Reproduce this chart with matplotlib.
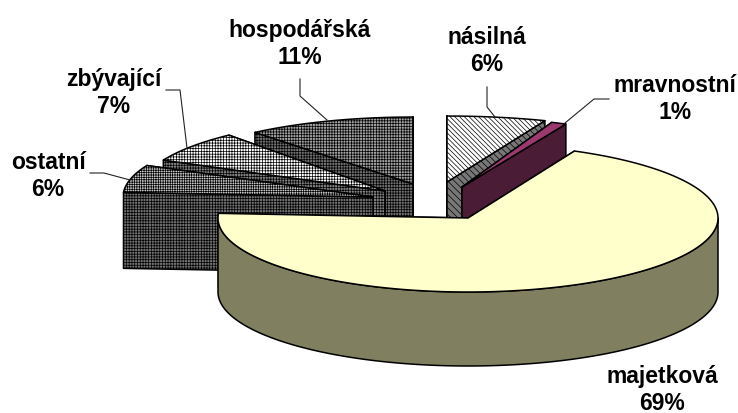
import numpy as np
import matplotlib
matplotlib.use('Agg')
import matplotlib.pyplot as plt
from matplotlib.patches import Polygon

plt.rcParams['font.family'] = ['Liberation Sans', 'DejaVu Sans']
plt.rcParams['hatch.linewidth'] = 0.5

# data, clockwise from 12 o'clock
names = ['násilná', 'mravnostní', 'majetková', 'ostatní', 'zbývající', 'hospodářská']
values = [6, 1, 69, 6, 7, 11]

# where each exploded slice sits (pixels)
apex_x = [447, 462, 468, 373, 385, 413]
apex_y = [183, 188, 219, 198, 192, 185]
radius = [266, 244, 250, 250, 245, 248]
tilt = [0.248, 0.285, 0.296, 0.296, 0.296, 0.27]
depth = [75, 75, 74, 76, 75, 75]
top_color = ['white', '#9c3a70', '#ffffcc', '#c8c8c8', 'white', '#a0a0a0']
top_hatch = ['\\' * 7, None, None, '+' * 7, '+' * 6, '+' * 6]
side_color = ['#777777', '#4a1c35', '#808060', '#707070', '#808080', '#707070']
side_hatch = ['\\' * 5, None, None, '+' * 6, '+' * 6, '+' * 6]
draw_order = [5, 4, 3, 0, 1, 2]

# label text position and leader lines
label_x = [487, 675, 662, 48, 114, 300]
label_y = [51, 99, 390, 176, 93, 44]
leaders = [
    ([487, 487, 495], [88, 108, 118]),
    ([609, 594, 565], [100, 100, 124]),
    None,
    ([90, 104, 130], [174, 174, 181]),
    ([166, 180, 187], [91, 91, 149]),
    ([300, 300, 327], [80, 97, 121]),
]


def rim(i, t):
    t = np.radians(t)
    return apex_x[i] + radius[i] * np.sin(t), apex_y[i] - radius[i] * tilt[i] * np.cos(t)


def poly(ax, xs, ys, color, hatch):
    ax.add_patch(Polygon(np.column_stack([xs, ys]), closed=True, facecolor=color,
                         edgecolor='black', hatch=hatch, linewidth=1.1, joinstyle='round'))


fig, ax = plt.subplots(figsize=(7.38, 4.14), dpi=100)
fig.subplots_adjust(0, 0, 1, 1)
ax.set_xlim(0, 738)
ax.set_ylim(414, 0)
ax.axis('off')

ends = np.cumsum(values) * 3.6
starts = ends - np.array(values) * 3.6

for i in draw_order:
    # cut faces, the one turned to the viewer goes last
    mid = (starts[i] + ends[i]) / 2
    faces = (starts[i], ends[i]) if mid < 180 else (ends[i], starts[i])
    for t in faces:
        x, y = rim(i, t)
        poly(ax, [apex_x[i], x, x, apex_x[i]],
             [apex_y[i], y, y + depth[i], apex_y[i] + depth[i]], side_color[i], side_hatch[i])
    # outer wall, only the part facing the viewer
    t0, t1 = max(starts[i], 90), min(ends[i], 270)
    if t1 > t0:
        x, y = rim(i, np.linspace(t0, t1, 120))
        poly(ax, np.r_[x, x[::-1]], np.r_[y, y[::-1] + depth[i]], side_color[i], side_hatch[i])
    # top face
    x, y = rim(i, np.linspace(starts[i], ends[i], 160))
    poly(ax, np.r_[apex_x[i], x], np.r_[apex_y[i], y], top_color[i], top_hatch[i])

for i in range(len(names)):
    if leaders[i]:
        ax.plot(leaders[i][0], leaders[i][1], color='#222222', lw=0.8)
    ax.text(label_x[i], label_y[i], f'{names[i]}\n{values[i]}%', ha='center', va='center',
            fontsize=16.5, fontweight='bold', linespacing=1.26, color='black')

fig.savefig('out.png', dpi=100)
